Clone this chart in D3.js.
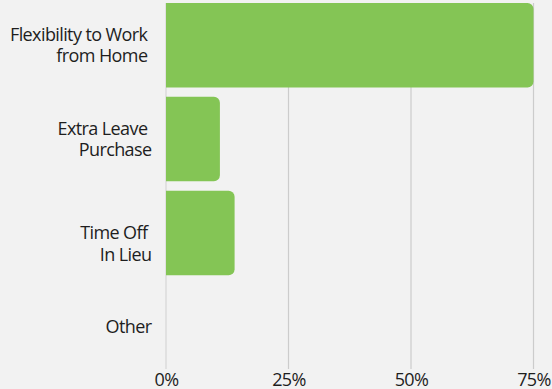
<!DOCTYPE html>
<html>
<head>
<meta charset="utf-8">
<script src="https://cdn.jsdelivr.net/npm/d3@7"></script>
<style>
  html, body { margin: 0; padding: 0; background: #f2f2f2; }
  svg { display: block; font-family: "Open Sans", sans-serif; }
  text { white-space: pre; letter-spacing: -0.6px; }
</style>
</head>
<body>
<svg id="chart" width="552" height="389"></svg>
<script>
// Benefit categories, each split into the lines shown beside its bar
const categories = ["Flexibility to Work from Home", "Extra Leave Purchase", "Time Off In Lieu", "Other"];
const categoryLines = [
  ["Flexibility to Work ", "from Home "],
  ["Extra Leave ", "Purchase"],
  ["", "Time Off ", "In Lieu"],
  ["Other"]
];
// Share of respondents (%)
const values = [75, 11, 14, 0];
const tickValues = [0, 25, 50, 75];
const tickLabels = ["0%", "25%", "50%", "75%"];

const svg = d3.select("#chart");
const margin = { top: 3, right: 18.5, bottom: 20, left: 166 };
const width = 552, height = 389;

const x = d3.scaleLinear().domain([0, 75]).range([margin.left, width - margin.right]);
const y = d3.scaleBand().domain(categories).range([margin.top, height - margin.bottom])
  .paddingInner(0.1).paddingOuter(0);

// Vertical gridlines
svg.append("g")
  .selectAll("line")
  .data(tickValues)
  .join("line")
  .attr("x1", d => x(d)).attr("x2", d => x(d))
  .attr("y1", y.range()[0]).attr("y2", y.range()[1])
  .attr("stroke", d => d === 0 ? "#d6d6d6" : "#cccccc")
  .attr("stroke-width", 1.2);

// Bars with rounded right-hand corners
function barPath(x0, x1, y0, h, r) {
  const w = x1 - x0;
  if (w <= 0) return "";
  const rr = Math.min(r, w, h / 2);
  return `M${x0},${y0}H${x1 - rr}A${rr},${rr} 0 0 1 ${x1},${y0 + rr}` +
         `V${y0 + h - rr}A${rr},${rr} 0 0 1 ${x1 - rr},${y0 + h}H${x0}Z`;
}

svg.append("g")
  .selectAll("path")
  .data(categories.map((c, i) => ({ c, v: values[i] })))
  .join("path")
  .attr("d", d => barPath(x(0), x(d.v), y(d.c), y.bandwidth(), 6))
  .attr("fill", "#84c555");

// Category labels, centred on their band
const lineHeight = 21.7;
const labelX = margin.left - 14.5;
const labels = svg.append("g")
  .attr("font-size", 18)
  .attr("fill", "#1e1e1e")
  .attr("text-anchor", "end");

categories.forEach((c, i) => {
  const lines = categoryLines[i];
  const cy = y(c) + y.bandwidth() / 2;
  const t = labels.append("text")
    .attr("x", labelX)
    .attr("y", cy - (lines.length - 1) * lineHeight / 2);
  lines.forEach((ln, j) => {
    t.append("tspan")
      .attr("x", labelX)
      .attr("dy", j === 0 ? "0.35em" : lineHeight)
      .text(ln === "" ? " " : ln);
  });
});

// Bottom axis labels
const axis = d3.axisBottom(x).tickValues(tickValues)
  .tickFormat((d, i) => tickLabels[i]).tickSize(0).tickPadding(0);
const gx = svg.append("g")
  .attr("transform", `translate(0,${y.range()[1]})`)
  .call(axis);
gx.select(".domain").remove();
gx.selectAll("text")
  .attr("font-family", "'Open Sans', sans-serif")
  .attr("font-size", 18)
  .attr("fill", "#1e1e1e")
  .attr("y", 17)
  .attr("dy", 0);
</script>
</body>
</html>
